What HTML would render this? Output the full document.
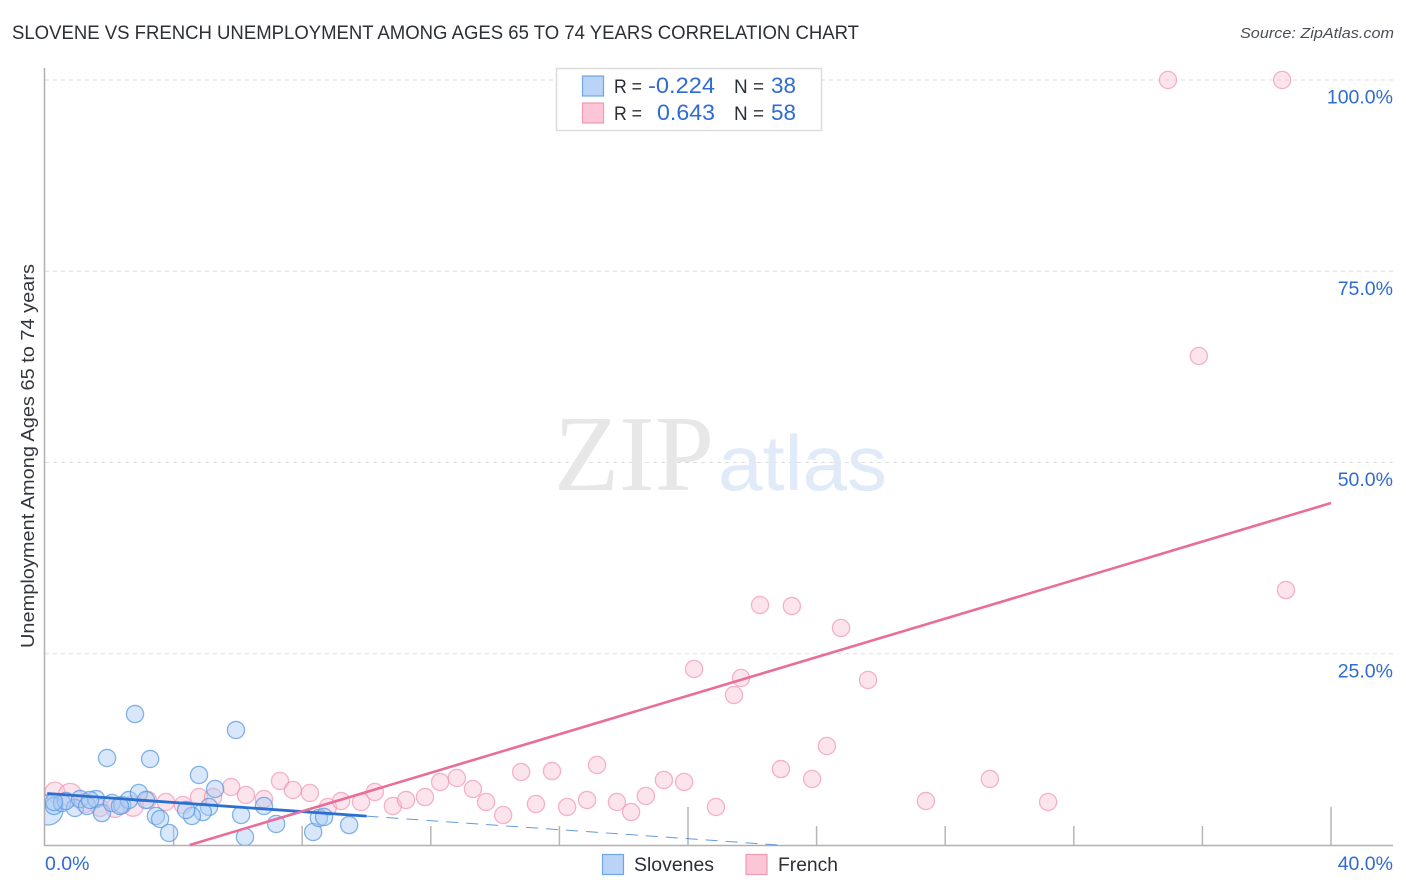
<!DOCTYPE html>
<html lang="en">
<head>
<meta charset="utf-8">
<title>Slovene vs French Unemployment Correlation Chart</title>
<style>
html,body{margin:0;padding:0;background:#fff;width:1406px;height:892px;overflow:hidden}
svg{display:block;font-family:"Liberation Sans",sans-serif}
</style>
</head>
<body>
<svg id="chart" xmlns="http://www.w3.org/2000/svg" width="1406" height="892" viewBox="0 0 1406 892">
  <defs><clipPath id="plot-clip"><rect x="45" y="60" width="1348" height="785"/></clipPath></defs>
  <text x="12" y="39" font-size="19" fill="#2b2f36" textLength="847" lengthAdjust="spacingAndGlyphs">SLOVENE VS FRENCH UNEMPLOYMENT AMONG AGES 65 TO 74 YEARS CORRELATION CHART</text>
  <text x="1394" y="38" font-size="15" font-style="italic" fill="#4a4f57" text-anchor="end" textLength="154" lengthAdjust="spacingAndGlyphs">Source: ZipAtlas.com</text>

  <g id="grid"></g>

  <g>
    <text x="554" y="490" font-family="'Liberation Serif',serif" font-size="108" fill="#e7e7e7" textLength="160" lengthAdjust="spacingAndGlyphs">ZIP</text>
    <text x="718" y="490" font-size="78" fill="#e0eaf8" textLength="169" lengthAdjust="spacingAndGlyphs">atlas</text>
  </g>

  <g id="axes"></g>
  <g id="french-points" clip-path="url(#plot-clip)"></g>
  <g id="slovene-points" clip-path="url(#plot-clip)"></g>
  <g id="trends"></g>
  <g id="labels"></g>

  <text transform="translate(34,456) rotate(-90)" font-size="18.5" fill="#33373d" text-anchor="middle" textLength="384" lengthAdjust="spacingAndGlyphs">Unemployment Among Ages 65 to 74 years</text>

  <g>
    <rect x="556.5" y="68.5" width="265" height="62" fill="#fff" stroke="#dcdcdc" stroke-width="1.5"/>
    <rect x="582.5" y="76" width="21" height="20" fill="#b9d4f7" stroke="#6fa5e6" stroke-width="1.2"/>
    <rect x="582.5" y="103" width="21" height="20" fill="#fcc6d7" stroke="#f09ab5" stroke-width="1.2"/>
    <text x="614" y="93" font-size="19.5" fill="#2b2f36" textLength="28" lengthAdjust="spacingAndGlyphs">R =</text>
    <text x="715" y="93" font-size="22" fill="#2f6bd0" text-anchor="end" textLength="67" lengthAdjust="spacingAndGlyphs">-0.224</text>
    <text x="734" y="93" font-size="19.5" fill="#2b2f36" textLength="30" lengthAdjust="spacingAndGlyphs">N =</text>
    <text x="771" y="93" font-size="22" fill="#2f6bd0" textLength="25" lengthAdjust="spacingAndGlyphs">38</text>
    <text x="614" y="120" font-size="19.5" fill="#2b2f36" textLength="28" lengthAdjust="spacingAndGlyphs">R =</text>
    <text x="715" y="120" font-size="22" fill="#2f6bd0" text-anchor="end" textLength="58" lengthAdjust="spacingAndGlyphs">0.643</text>
    <text x="734" y="120" font-size="19.5" fill="#2b2f36" textLength="30" lengthAdjust="spacingAndGlyphs">N =</text>
    <text x="771" y="120" font-size="22" fill="#2f6bd0" textLength="25" lengthAdjust="spacingAndGlyphs">58</text>
  </g>

  <g>
    <rect x="602.5" y="854.5" width="21" height="20" fill="#b9d4f7" stroke="#6fa5e6" stroke-width="1.2"/>
    <text x="634" y="871" font-size="19.5" fill="#2b2f36" textLength="80" lengthAdjust="spacingAndGlyphs">Slovenes</text>
    <rect x="746" y="854.5" width="21" height="20" fill="#fcc6d7" stroke="#f09ab5" stroke-width="1.2"/>
    <text x="778" y="871" font-size="19.5" fill="#2b2f36" textLength="60" lengthAdjust="spacingAndGlyphs">French</text>
  </g>
</svg>
<script>
var sloveneX = [0.09,0.28,0.53,0.93,0.65,1.09,1.31,1.59,1.77,2.08,2.4,2.61,2.92,3.14,2.8,1.93,3.27,4.79,5.94,5.29,5.1,4.91,4.57,4.39,3.45,3.58,3.86,6.1,6.22,6.81,7.19,8.34,8.52,8.68,9.46,0.28,1.4,2.33];
var sloveneY = [4.58,5.1,5.49,4.84,5.75,6.01,5.1,6.01,4.18,5.49,5.23,5.88,6.8,5.88,17.12,11.37,11.24,9.15,15.03,7.32,4.97,4.31,3.79,4.58,3.79,3.4,1.57,3.92,1.05,5.1,2.75,1.7,3.53,3.66,2.61,5.62,5.88,5.1];
var sloveneWeight = [1.75,1,1,1,1,1,1,1,1,1,1,1,1,1,1,1,1,1,1,1,1,1,1,1,1,1,1,1,1,1,1,1,1,1,1,1,1,1];
var frenchX = [0.31,0.78,1.24,1.71,2.18,2.74,3.2,3.76,4.29,4.79,5.23,5.79,6.25,6.81,7.31,7.71,8.24,8.8,9.21,9.83,10.26,10.82,11.23,11.82,12.29,12.81,13.31,13.72,14.25,14.81,15.27,15.77,16.24,16.86,17.17,17.79,18.23,18.69,19.25,19.88,20.19,20.87,21.43,21.65,22.24,22.89,23.23,23.86,24.32,24.76,25.6,27.4,29.39,31.2,34.93,35.89,38.48,38.6];
var frenchY = [6.93,6.54,5.49,4.84,4.84,5.1,5.88,5.62,5.23,6.27,6.27,7.58,6.54,6.01,8.37,7.19,6.8,4.97,5.75,5.62,6.93,5.1,5.88,6.27,8.24,8.76,7.32,5.62,3.92,9.54,5.36,9.67,4.97,5.88,10.46,5.62,4.31,6.41,8.5,8.24,23.01,4.97,19.61,21.83,31.37,9.93,31.24,8.63,12.94,28.37,21.57,5.75,8.63,5.62,100,63.92,100,33.33];
var frenchWeight = [1.15,1.35,1.1,1,1.1,1.2,1,1,1,1,1,1,1,1,1,1,1,1,1,1,1,1,1,1,1,1,1,1,1,1,1,1,1,1,1,1,1,1,1,1,1,1,1,1,1,1,1,1,1,1,1,1,1,1,1,1,1,1];
var sloveneTrendX = [0.07, 10.0];
var sloveneTrendY = [6.73, 3.77];
var sloveneDashX = [10.0, 22.8];
var sloveneDashY = [3.77, 0];
var frenchTrendX = [4.5, 40];
var frenchTrendY = [0, 44.7];
var yTickValues = [25, 50, 75, 100];
var yTickLabels = ['25.0%','50.0%','75.0%','100.0%'];
var xTickValues = [4,8,12,16,20,24,28,32,36,40];
var xMajorTicks = [20,40];
var xEndValues = [0,40];
var xEndLabels = ['0.0%','40.0%'];

var NS = 'http://www.w3.org/2000/svg';
function sx(v){ return 45 + v * 32.15; }
function sy(v){ return 845 - v * 7.65; }
function make(tag, parentId, attrs){
  var el = document.createElementNS(NS, tag);
  for (var k in attrs) el.setAttribute(k, attrs[k]);
  document.getElementById(parentId).appendChild(el);
  return el;
}
yTickValues.forEach(function(v, i){
  var g = make('line','grid',{x1:45,x2:1393,y1:sy(v),y2:sy(v),stroke:'#dedede','stroke-width':1,'stroke-dasharray':'4 4'});
  
  
  var t = make('text','labels',{x:1393,y:sy(v)+23.5,'font-size':19.5,fill:'#2f6bd0','text-anchor':'end'});
  
  
  t.textContent = yTickLabels[i];
});
xTickValues.forEach(function(v){
  var major = xMajorTicks.indexOf(v) >= 0;
  var l = make('line','axes',{x1:sx(v),x2:sx(v),y1:major?807:826,y2:845,stroke:'#b6b6b6','stroke-width':1.5});
  
  
});
var yAxis = make('line','axes',{x1:44.5,x2:44.5,y1:68,y2:846,stroke:'#b0b0b0','stroke-width':1.5});


var xAxis = make('line','axes',{x1:44,x2:1393,y1:845.5,y2:845.5,stroke:'#b0b0b0','stroke-width':1.5});


xEndValues.forEach(function(v, i){
  var t = make('text','labels',{x:i===0?45:1393,y:870,'font-size':19.5,fill:'#2f6bd0','text-anchor':i===0?'start':'end'});
  
  
  t.textContent = xEndLabels[i];
});
frenchX.forEach(function(v, i){
  var c = make('circle','french-points',{cx:sx(v),cy:sy(frenchY[i]),r:8.6*frenchWeight[i],fill:'#f9bfd2','fill-opacity':0.42,stroke:'#f095b2','stroke-opacity':0.7,'stroke-width':1.3});
  
  
});
sloveneX.forEach(function(v, i){
  var c = make('circle','slovene-points',{cx:sx(v),cy:sy(sloveneY[i]),r:8.6*sloveneWeight[i],fill:'#a9ccf4','fill-opacity':0.45,stroke:'#5c9ae2','stroke-opacity':0.75,'stroke-width':1.3});
  
  
});
var dash = make('line','trends',{x1:sx(sloveneDashX[0]),y1:sy(sloveneDashY[0]),x2:sx(sloveneDashX[1]),y2:sy(sloveneDashY[1]),stroke:'#3f7fd6','stroke-width':1,'stroke-dasharray':'12 8','stroke-opacity':0.8});


var st = make('line','trends',{x1:sx(sloveneTrendX[0]),y1:sy(sloveneTrendY[0]),x2:sx(sloveneTrendX[1]),y2:sy(sloveneTrendY[1]),stroke:'#2b6fd0','stroke-width':2.8});


var ft = make('line','trends',{x1:sx(frenchTrendX[0]),y1:sy(frenchTrendY[0]),x2:sx(frenchTrendX[1]),y2:sy(frenchTrendY[1]),stroke:'#e96d9a','stroke-width':2.6});


</script>
</body>
</html>
